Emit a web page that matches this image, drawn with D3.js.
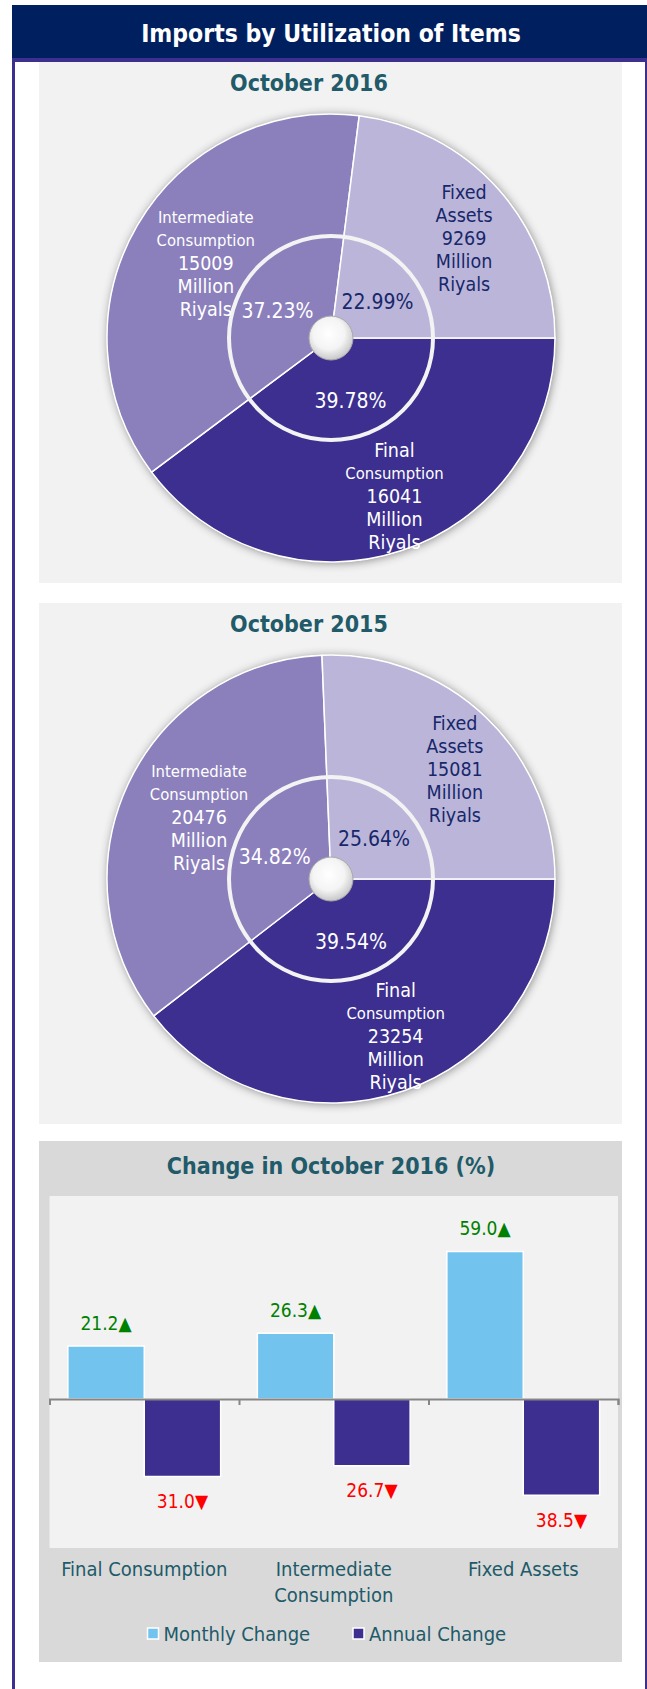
<!DOCTYPE html>
<html>
<head>
<meta charset="utf-8">
<script src="https://cdn.jsdelivr.net/npm/d3@7"></script>
<style>
  html, body { margin: 0; padding: 0; background: #ffffff; }
  svg { display: block; font-family: "Liberation Sans Narrow", "DejaVu Sans Condensed", "Roboto Condensed", sans-serif; }
</style>
</head>
<body>
<svg id="chart" width="647" height="1689"></svg>
<script>
// ---- data ----
var pieCategories = ["Final Consumption", "Intermediate Consumption", "Fixed Assets"]
var values2016 = [16041, 15009, 9269]
var values2015 = [23254, 20476, 15081]
var percent2016 = [39.78, 37.23, 22.99]
var percent2015 = [39.54, 34.82, 25.64]

var barCategories = ["Final Consumption", "Intermediate Consumption", "Fixed Assets"]
var seriesNames = ["Monthly Change", "Annual Change"]
var monthlyChange = [21.2, 26.3, 59.0]
var annualChange = [-31.0, -26.7, -38.5]

var sliceColors = ["#3c2f8f", "#8b80bc", "#bcb5da"]
var sliceTextColors = ["#ffffff", "#ffffff", "#16286a"]
var barColors = ["#72c4ee", "#3c2f8f"]
var teal = "#215a69"

var svg = d3.select("#chart")

// shadow filter for the pies
var defs = svg.append("defs")
var f = defs.append("filter").attr("id", "shadow")
    .attr("x", "-20%").attr("y", "-20%").attr("width", "140%").attr("height", "140%")
f.append("feDropShadow")
    .attr("dx", 1).attr("dy", 1).attr("stdDeviation", 5)
    .attr("flood-color", "#000").attr("flood-opacity", 0.45)

var hole = defs.append("radialGradient").attr("id", "hole")
    .attr("cx", "45%").attr("cy", "40%").attr("r", "60%")
hole.append("stop").attr("offset", "0%").attr("stop-color", "#ffffff")
hole.append("stop").attr("offset", "60%").attr("stop-color", "#f4f4f4")
hole.append("stop").attr("offset", "100%").attr("stop-color", "#c8c8c8")

// ---- frame ----
svg.append("rect").attr("x", 12).attr("y", 5).attr("width", 3).attr("height", 1684).attr("fill", "#3c2f8f")
svg.append("rect").attr("x", 645).attr("y", 5).attr("width", 3).attr("height", 1684).attr("fill", "#3c2f8f")
svg.append("rect").attr("x", 12).attr("y", 5).attr("width", 636).attr("height", 53).attr("fill", "#001f5e")
svg.append("rect").attr("x", 12).attr("y", 58).attr("width", 636).attr("height", 4).attr("fill", "#3c2f8f")
svg.append("text")
    .attr("x", 331).attr("y", 42)
    .attr("text-anchor", "middle")
    .attr("fill", "#ffffff")
    .style("font-size", "24.5px").style("font-weight", "bold")
    .text("Imports by Utilization of Items")

// ---- pies ----
function drawPie(top, title, values, percents)
{
    var g = svg.append("g")
    g.append("rect").attr("x", 39).attr("y", top).attr("width", 583).attr("height", 521).attr("fill", "#f2f2f2")
    g.append("text")
        .attr("x", 309).attr("y", top + 29)
        .attr("text-anchor", "middle")
        .attr("fill", teal)
        .style("font-size", "23px").style("font-weight", "bold")
        .text(title)

    var cx = 331, cy = top + 276, R = 224
    var pie = d3.pie().sort(null)
        .startAngle(Math.PI / 2).endAngle(Math.PI / 2 + 2 * Math.PI)
    var arcs = pie(values)
    var arc = d3.arc().innerRadius(0).outerRadius(R)
    var labelArc = d3.arc().innerRadius(160).outerRadius(160)
    var pctArc = d3.arc().innerRadius(62).outerRadius(62)

    var c = g.append("g").attr("transform", "translate(" + cx + "," + cy + ")")
    c.append("circle").attr("r", R).attr("fill", "#ffffff").attr("filter", "url(#shadow)")
    c.selectAll("path.slice")
        .data(arcs)
        .enter()
            .append("path")
            .attr("class", "slice")
            .attr("d", arc)
            .attr("fill", function(d, i){ return sliceColors[i] })
            .attr("stroke", "#ffffff")
            .attr("stroke-width", 1.5)

    // inner ring and hole
    c.append("circle").attr("r", 102).attr("fill", "none").attr("stroke", "#f3f3f3").attr("stroke-width", 4)
    c.append("circle").attr("r", 22).attr("fill", "url(#hole)").attr("stroke", "#a8a8a8").attr("stroke-width", 1)

    // percentage labels
    c.selectAll("text.pct")
        .data(arcs)
        .enter()
            .append("text")
            .attr("class", "pct")
            .attr("transform", function(d){ return "translate(" + pctArc.centroid(d) + ")" })
            .attr("dy", "0.55em")
            .attr("text-anchor", "middle")
            .attr("fill", function(d, i){ return sliceTextColors[i] })
            .style("font-size", "21px")
            .text(function(d, i){ return percents[i].toFixed(2) + "%" })

    // category labels
    arcs.forEach(function(d, i)
    {
        var words = pieCategories[i].split(" ")
        var lines = words.concat([String(values[i]), "Million", "Riyals"])
        var p = labelArc.centroid(d)
        var lh = 23
        var t = c.append("text")
            .attr("transform", "translate(13,6)")
            .attr("text-anchor", "middle")
            .attr("fill", sliceTextColors[i])
        lines.forEach(function(line, j)
        {
            t.append("tspan")
                .attr("x", p[0])
                .attr("y", p[1] + (j - (lines.length - 1) / 2) * lh)
                .attr("dy", "0.35em")
                .style("font-size", line.length > 9 ? "16.5px" : "19.5px")
                .text(line)
        })
    })
}

drawPie(62, "October 2016", values2016, percent2016)
drawPie(603, "October 2015", values2015, percent2015)

// ---- bar chart ----
var top3 = 1141
svg.append("rect").attr("x", 39).attr("y", top3).attr("width", 583).attr("height", 521).attr("fill", "#d9d9d9")
svg.append("text")
    .attr("x", 331).attr("y", top3 + 33)
    .attr("text-anchor", "middle")
    .attr("fill", teal)
    .style("font-size", "23px").style("font-weight", "bold")
    .text("Change in October 2016 (%)")

var plotLeft = 49.5, plotRight = 618, plotTop = 1196, plotBottom = 1548
svg.append("rect")
    .attr("x", plotLeft).attr("y", plotTop)
    .attr("width", plotRight - plotLeft).attr("height", plotBottom - plotTop)
    .attr("fill", "#f2f2f2")

var x0 = d3.scaleBand().domain(barCategories).range([plotLeft, plotRight]).padding(0)
var x1 = d3.scaleBand().domain(seriesNames).range([0, x0.bandwidth()]).paddingInner(0).paddingOuter(0.24)
var y = d3.scaleLinear().domain([-60, 80]).range([1549, 1199])

var rows = barCategories.map(function(c, i){ return {cat: c, vals: [monthlyChange[i], annualChange[i]]} })

var groups = svg.selectAll("g.cat")
    .data(rows)
    .enter()
        .append("g")
        .attr("class", "cat")
        .attr("transform", function(d){ return "translate(" + x0(d.cat) + ",0)" })

groups.selectAll("rect")
    .data(function(d){ return d.vals.map(function(v, k){ return {s: seriesNames[k], v: v, k: k} }) })
    .enter()
        .append("rect")
        .attr("x", function(d){ return x1(d.s) })
        .attr("width", x1.bandwidth())
        .attr("y", function(d){ return d.v >= 0 ? y(d.v) : y(0) })
        .attr("height", function(d){ return Math.abs(y(d.v) - y(0)) })
        .attr("fill", function(d){ return barColors[d.k] })
        .attr("stroke", "#ffffff")
        .attr("stroke-width", 1.5)

groups.selectAll("text.val")
    .data(function(d){ return d.vals.map(function(v, k){ return {s: seriesNames[k], v: v, k: k} }) })
    .enter()
        .append("text")
        .attr("class", "val")
        .attr("x", function(d){ return x1(d.s) + x1.bandwidth() / 2 })
        .attr("y", function(d){ return d.v >= 0 ? y(d.v) - 23 : y(d.v) + 25 })
        .attr("dy", "0.35em")
        .attr("text-anchor", "middle")
        .attr("fill", function(d){ return d.v >= 0 ? "#008000" : "#ff0000" })
        .style("font-size", "19px")
        .text(function(d){ return Math.abs(d.v).toFixed(1) + (d.v >= 0 ? "\u25B2" : "\u25BC") })

// zero axis with ticks at the category boundaries
var bounds = d3.scaleLinear().domain([0, barCategories.length]).range([plotLeft, plotRight])
var axis = svg.append("g")
    .attr("transform", "translate(0," + y(0) + ")")
    .call(d3.axisBottom(bounds).ticks(barCategories.length).tickFormat("").tickSize(6))
axis.selectAll("path, line").attr("stroke", "#868686").attr("stroke-width", 2)

// category labels
svg.selectAll("text.cat")
    .data(barCategories)
    .enter()
        .append("text")
        .attr("class", "cat")
        .attr("text-anchor", "middle")
        .attr("fill", teal)
        .style("font-size", "20px")
        .each(function(d)
        {
            var t = d3.select(this)
            var cxp = x0(d) + x0.bandwidth() / 2
            t.append("tspan").attr("x", cxp).attr("y", 1576).text(d)
            if(this.getComputedTextLength() > x0.bandwidth() - 8)
            {
                t.text("")
                d.split(" ").forEach(function(w, j)
                {
                    t.append("tspan").attr("x", cxp).attr("y", 1576 + j * 26).text(w)
                })
            }
        })

// legend
var legendX = [147.5, 353]
var lg = svg.selectAll("g.legend")
    .data(seriesNames)
    .enter()
        .append("g")
        .attr("class", "legend")
        .attr("transform", function(d, i){ return "translate(" + legendX[i] + ",1634)" })
lg.append("rect")
    .attr("x", 0).attr("y", -6).attr("width", 11).attr("height", 11)
    .attr("fill", function(d, i){ return barColors[i] })
    .attr("stroke", "#ffffff").attr("stroke-width", 1.5)
lg.append("text")
    .attr("x", 16).attr("y", 0).attr("dy", "0.35em")
    .attr("fill", teal)
    .style("font-size", "20px")
    .text(function(d){ return d })
</script>
</body>
</html>
